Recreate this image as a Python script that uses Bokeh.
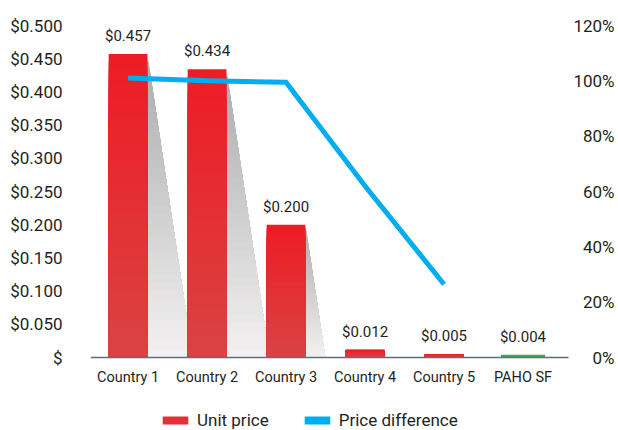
import numpy as np
from bokeh.plotting import figure
from bokeh.models import Range1d, FixedTicker, Legend, LegendItem, ColumnDataSource
from bokeh.core.properties import value
from bokeh.embed import file_html
from bokeh.resources import INLINE

# ---------------- data ----------------
categories = ["Country 1", "Country 2", "Country 3", "Country 4", "Country 5", "PAHO SF"]
unit_price = [0.457, 0.434, 0.200, 0.012, 0.005, 0.004]
price_difference = [1.01, 1.00, 0.995, 0.62, 0.265]          # Country 1..5
price_ticks = [0, 0.05, 0.1, 0.15, 0.2, 0.25, 0.3, 0.35, 0.4, 0.45, 0.5]
price_tick_labels = ["$", "$0.050", "$0.100", "$0.150", "$0.200", "$0.250",
                     "$0.300", "$0.350", "$0.400", "$0.450", "$0.500"]
pct_ticks = [0, 0.2, 0.4, 0.6, 0.8, 1.0, 1.2]
pct_tick_labels = ["0%", "20%", "40%", "60%", "80%", "100%", "120%"]

# ---------------- style ----------------
FONT = "Roboto"
TEXT = "#231f20"
RED_TOP = np.array([0xEE, 0x1C, 0x25])
RED_BOT = np.array([0xD9, 0x44, 0x43])
GREEN = "#3dad47"
BLUE = "#00AEEF"
SH_TOP = np.array([0xAC, 0xAC, 0xAC])
SH_BOT = np.array([0xF4, 0xF2, 0xF2])
BAR_W = 0.49
HL_W = 0.56
SHADOW_SLOPE = 1.26   # x-units per y-unit
N = 40

X_LO, X_AXIS_HI, X_HI = -0.475, 5.575, 6.209
Y_LO, Y_HI = -0.1099, 0.5377
PCT_LO, PCT_HI = Y_LO * 2.4, Y_HI * 2.4


def mix(a, b, t):
    c = (a * (1 - t) + b * t).round().astype(int)
    return "#%02x%02x%02x" % tuple(c)


p = figure(width=618, height=430, output_backend="svg", toolbar_location=None,
           x_range=Range1d(X_LO, X_HI), y_range=Range1d(Y_LO, Y_HI),
           min_border_left=90, min_border_right=0, min_border_top=0,
           min_border_bottom=0)
p.extra_y_ranges = {"pct": Range1d(PCT_LO, PCT_HI)}
p.outline_line_color = None
p.xgrid.grid_line_color = None
p.ygrid.grid_line_color = None
p.background_fill_color = "white"

last = len(categories) - 1

# shadows (drawn first)
sx, sy, sc = [], [], []
for i, h in enumerate(unit_price):
    if i == last:
        continue
    xr = i + BAR_W / 2
    for k in range(N):
        t = k / N
        yk = h * (1 - t)
        sx.append([xr, xr, xr + SHADOW_SLOPE * h, xr + SHADOW_SLOPE * (h - yk)])
        sy.append([yk, 0, 0, yk])
        sc.append(mix(SH_TOP, SH_BOT, t))
p.patches(xs=sx, ys=sy, fill_color=sc, line_color=None)

# bars with vertical gradient
bl, br, bt, bb, bc = [], [], [], [], []
for i, h in enumerate(unit_price):
    if i == last:
        bl.append(i - HL_W / 2); br.append(i + HL_W / 2)
        bt.append(h); bb.append(0); bc.append(GREEN)
        continue
    for k in range(N):
        t = k / N
        bl.append(i - BAR_W / 2); br.append(i + BAR_W / 2)
        bt.append(h * (1 - t)); bb.append(0); bc.append(mix(RED_TOP, RED_BOT, t))
bars = p.quad(source=ColumnDataSource(dict(left=bl, right=br, top=bt, bottom=bb, color=bc)),
              left="left", right="right", top="top", bottom="bottom",
              fill_color="color", line_color=None)

# value labels
lab_src = ColumnDataSource(dict(x=list(range(len(categories))), y=unit_price,
                                text=["$%.3f" % v for v in unit_price]))
p.text(x="x", y="y", text="text", source=lab_src, text_align="center",
       text_baseline="bottom", y_offset=-9, text_font=value(FONT),
       text_font_size="15px", text_color=TEXT)

# price difference line
line_x = list(range(len(price_difference)))
p.line(x=line_x, y=price_difference, y_range_name="pct",
       line_color=BLUE, line_width=5, line_join="miter")
# zero-area markers at the line's points, used only for the legend swatch
line_swatch = p.quad(left=line_x, right=line_x, top=price_difference, bottom=price_difference,
                     y_range_name="pct", fill_color=BLUE, line_color=None)

# x axis drawn at y = 0 inside the frame
p.xaxis.fixed_location = 0
p.xaxis.bounds = (X_LO, X_AXIS_HI)
p.xaxis.ticker = FixedTicker(ticks=list(range(len(categories))))
p.xaxis.major_label_overrides = {i: c for i, c in enumerate(categories)}
p.xaxis.axis_line_color = "#616d7a"
p.xaxis.axis_line_width = 1.5
p.xaxis.major_tick_line_color = None
p.xaxis.major_tick_out = 0
p.xaxis.minor_tick_line_color = None
p.xaxis.major_label_standoff = 11
p.xaxis.major_label_text_font = FONT
p.xaxis.major_label_text_font_size = "14.5px"
p.xaxis.major_label_text_color = TEXT

p.yaxis.ticker = FixedTicker(ticks=price_ticks)
p.yaxis.major_label_overrides = dict(zip(price_ticks, price_tick_labels))
p.yaxis.axis_line_color = None
p.yaxis.major_tick_line_color = None
p.yaxis.major_tick_out = 0
p.yaxis.minor_tick_line_color = None
p.yaxis.major_label_standoff = 28
p.yaxis.major_label_text_font = FONT
p.yaxis.major_label_text_font_size = "17px"
p.yaxis.major_label_text_color = TEXT

# right-hand percentage scale labels (right aligned at the right edge)
pct_src = ColumnDataSource(dict(x=[X_HI] * len(pct_ticks), y=pct_ticks, text=pct_tick_labels))
p.text(x="x", y="y", text="text", source=pct_src, y_range_name="pct",
       text_align="right", text_baseline="middle", x_offset=-4,
       text_font=value(FONT), text_font_size="17px", text_color=TEXT)

# legend
legend = Legend(items=[LegendItem(label="Unit price", renderers=[bars], index=N // 2),
                       LegendItem(label="Price difference", renderers=[line_swatch], index=0)],
                orientation="horizontal", location=(69, 0), glyph_width=32,
                glyph_height=10, label_standoff=6, spacing=32, padding=0, margin=0,
                border_line_color=None, background_fill_alpha=0,
                label_text_font=FONT, label_text_font_size="17px", label_text_color=TEXT)
p.add_layout(legend, "center")

open("out.html", "w").write(file_html(p, INLINE))
